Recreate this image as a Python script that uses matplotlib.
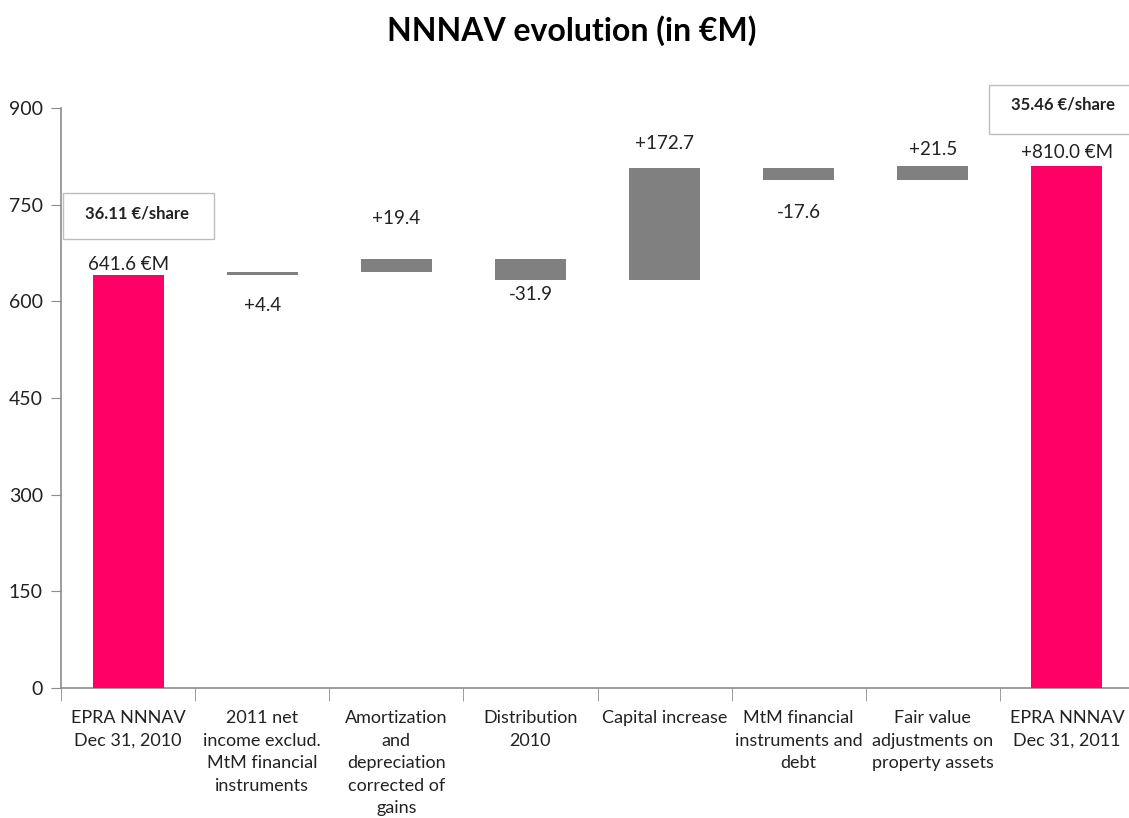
import matplotlib
matplotlib.use("Agg")
import matplotlib.pyplot as plt
from matplotlib.patches import Rectangle
import numpy as np

plt.rcParams['font.family'] = ['Lato', 'DejaVu Sans']

# --- data -------------------------------------------------------------
categories = [
    "EPRA NNNAV\nDec 31, 2010",
    "2011 net\nincome exclud.\nMtM financial\ninstruments",
    "Amortization\nand\ndepreciation\ncorrected of\ngains",
    "Distribution\n2010",
    "Capital increase",
    "MtM financial\ninstruments and\ndebt",
    "Fair value\nadjustments on\nproperty assets",
    "EPRA NNNAV\nDec 31, 2011",
]
start_value = 641.6
changes = [4.4, 19.4, -31.9, 172.7, -17.6, 21.5]
end_value = 810.0
per_share = ["36.11 €/share", "35.46 €/share"]
yticks = [0, 150, 300, 450, 600, 750, 900]

# --- styling ----------------------------------------------------------
PINK = "#FF0066"
GREY = "#808080"
AXIS = "#8C8C8C"
TEXT = "#222222"

W, H = 1129, 818
fig = plt.figure(figsize=(W / 100, H / 100), dpi=100)
ax = fig.add_axes([61 / W, (H - 688) / H, (1134 - 61) / W, 580 / H])

# waterfall geometry
bottoms, heights, colors = [0.0], [start_value], [PINK]
level = start_value
for d in changes:
    bottoms.append(level if d >= 0 else level + d)
    heights.append(abs(d))
    colors.append(GREY)
    level += d
bottoms.append(0.0)
heights.append(end_value)
colors.append(PINK)

x = np.arange(len(categories))
ax.bar(x, heights, bottom=bottoms, width=0.53, color=colors, zorder=3)

# value labels: (side, gap in pixels from the bar edge)
labels = [f"{start_value:.1f} €M"] + [f"{d:+.1f}" for d in changes] + [f"{end_value:+.1f} €M"]
placement = [("above", 10), ("below", 31), ("above", 41), ("below", 15),
             ("above", 25), ("below", 33), ("above", 16), ("above", 14)]
for xi, b, h, lab, (side, gap) in zip(x, bottoms, heights, labels, placement):
    if side == "above":
        y, off = b + h, gap
    else:
        y, off = b, -gap
    ax.annotate(lab, (xi, y), xytext=(0, off), textcoords="offset pixels",
                ha="center", va="center", fontsize=13.5, color=TEXT)

# per-share boxes
boxes = [((-0.485, 697), 1.122, 71, (0.07, 737)),
         ((6.42, 860), 1.10, 76, (6.97, 905))]
for (xy, bw, bh, txy), txt in zip(boxes, per_share):
    ax.add_patch(Rectangle(xy, bw, bh, facecolor="white", edgecolor="#BDBDBD",
                           linewidth=1, clip_on=False, zorder=4))
    ax.text(txy[0], txy[1], txt, ha="center", va="center", fontsize=12,
            fontweight="bold", color=TEXT, zorder=5, clip_on=False)

# axes
ax.set_xlim(-0.5, 7.5)
ax.set_ylim(0, 900)
ax.set_yticks(yticks)
ax.set_yticklabels([str(v) for v in yticks], fontsize=14, color=TEXT)
ax.tick_params(axis="y", length=7, color=AXIS, pad=6)
ax.set_xticks(x)
ax.set_xticklabels(categories, fontsize=13, color=TEXT, linespacing=1.5)
ax.tick_params(axis="x", which="major", length=0, pad=16)
ax.set_xticks(np.arange(-0.5, 8, 1), minor=True)
ax.tick_params(axis="x", which="minor", length=9, color=AXIS)
for s in ("top", "right"):
    ax.spines[s].set_visible(False)
for s in ("left", "bottom"):
    ax.spines[s].set_color(AXIS)
    ax.spines[s].set_linewidth(1.2)

fig.text(572 / W, 1 - 31 / H, "NNNAV evolution (in €M)", ha="center", va="center",
         fontsize=23, fontweight="bold", color="black")

fig.savefig("out.png", dpi=100, facecolor="white")
